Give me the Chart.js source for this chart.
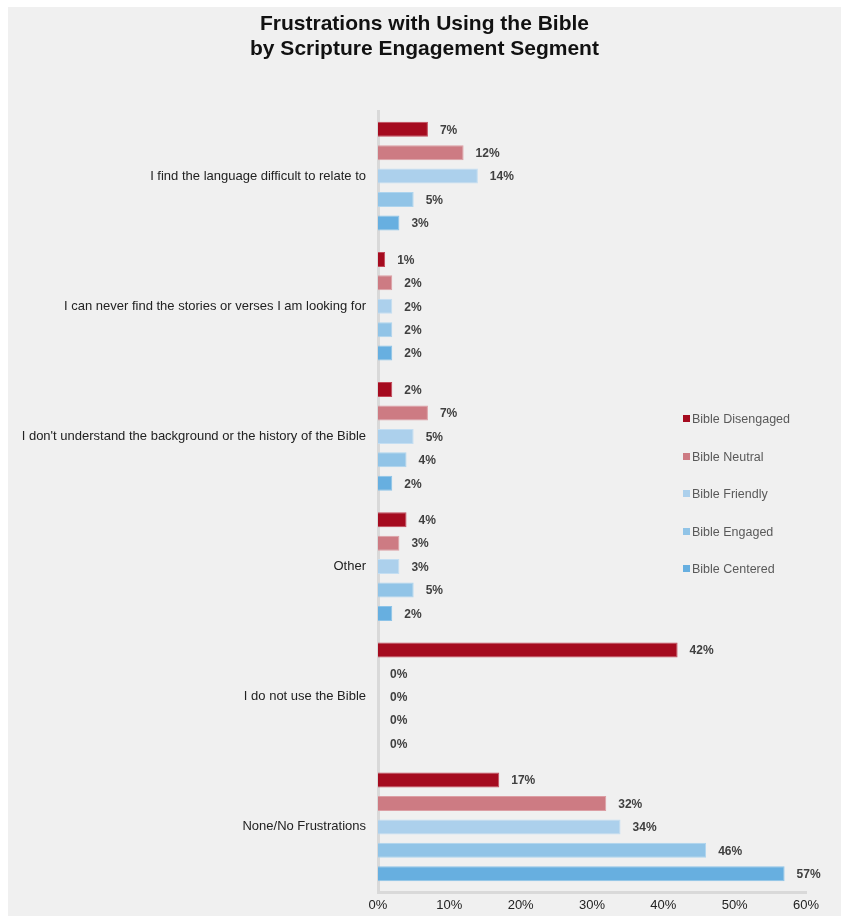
<!DOCTYPE html>
<html>
<head>
<meta charset="utf-8">
<script src="https://cdn.jsdelivr.net/npm/chart.js@4/dist/chart.umd.min.js"></script>
<style>
  body { margin: 0; background: #fff; }
  #wrap { position: absolute; left: 8px; top: 7px; width: 833px; height: 909px; background: #f0f0f0; }
  #title { position: absolute; left: 0; top: 3px; width: 833px; text-align: center; font: bold 21px/25px "Liberation Sans", Arial, sans-serif; color: #111; }
  #legend { position: absolute; left: 675px; top: 403px; font-family: "Liberation Sans", Arial, sans-serif; font-size: 12.5px; color: #595959; }
  #legend div { height: 37.5px; line-height: 18px; white-space: nowrap; }
  #legend span { display: inline-block; width: 7px; height: 7px; margin-right: 2px; vertical-align: 1px; }
</style>
</head>
<body>
<div id="wrap">
  <canvas id="chart" width="833" height="909"></canvas>
  <div id="title">Frustrations with Using the Bible<br>by Scripture Engagement Segment</div>
  <div id="legend"></div>
</div>
<script>
var categories = [
    'I find the language difficult to relate to',
    'I can never find the stories or verses I am looking for',
    "I don't understand the background or the history of the Bible",
    'Other',
    'I do not use the Bible',
    'None/No Frustrations'
];
var segments = ['Bible Disengaged', 'Bible Neutral', 'Bible Friendly', 'Bible Engaged', 'Bible Centered'];
var disengaged = [7, 1, 2, 4, 42, 17];
var neutral = [12, 2, 7, 3, 0, 32];
var friendly = [14, 2, 5, 3, 0, 34];
var engaged = [5, 2, 4, 5, 0, 46];
var centered = [3, 2, 2, 2, 0, 57];
var xTicks = [0, 10, 20, 30, 40, 50, 60];

var fills = ['#a50b1f', '#cd7b83', '#acd0ec', '#91c4e7', '#67afe0'];
var edges = ['#c24a5a', '#dc9ea4', '#c4def2', '#add4ee', '#8cc3e8'];
var sans = '"Liberation Sans", Arial, sans-serif';

var series = [disengaged, neutral, friendly, engaged, centered];
var datasets = [];
for (var i = 0; i < series.length; i++) {
    datasets.push({
        label: segments[i],
        data: series[i],
        backgroundColor: fills[i],
        borderColor: edges[i],
        borderWidth: 1,
        categoryPercentage: 0.9,
        barPercentage: 0.64
    });
}

// value labels just past the end of each bar
var valueLabels = {
    id: 'valueLabels',
    afterDatasetsDraw: function (chart) {
        var ctx = chart.ctx;
        var xs = chart.scales.x;
        ctx.save();
        ctx.font = 'bold 12px ' + sans;
        ctx.fillStyle = '#404040';
        ctx.textAlign = 'left';
        ctx.textBaseline = 'middle';
        chart.data.datasets.forEach(function (ds, di) {
            chart.getDatasetMeta(di).data.forEach(function (bar, j) {
                ctx.fillText(ds.data[j] + '%', xs.getPixelForValue(ds.data[j]) + 12, bar.y + 1);
            });
        });
        ctx.restore();
    }
};

new Chart(document.getElementById('chart'), {
    type: 'bar',
    data: { labels: categories, datasets: datasets },
    plugins: [valueLabels],
    options: {
        indexAxis: 'y',
        responsive: false,
        animation: false,
        layout: { padding: { top: 104, right: 35 } },
        plugins: {
            legend: { display: false },
            tooltip: { enabled: false },
            title: { display: false }
        },
        scales: {
            x: {
                min: 0,
                max: 60,
                afterBuildTicks: function (scale) {
                    scale.ticks = xTicks.map(function (v) { return { value: v }; });
                },
                afterFit: function (scale) { scale.height = 24; },
                grid: { display: false, drawTicks: false },
                border: { color: '#d9d9d9', width: 3 },
                ticks: {
                    padding: 6,
                    color: '#222',
                    font: { family: sans, size: 13 },
                    callback: function (v) { return v + '%'; }
                }
            },
            y: {
                afterFit: function (scale) { scale.width = 370; },
                grid: { display: false, drawTicks: false },
                border: { color: '#d9d9d9', width: 3 },
                ticks: {
                    padding: 12,
                    color: '#222',
                    font: { family: sans, size: 13 }
                }
            }
        }
    }
});

// legend on the right
var legend = document.getElementById('legend');
segments.forEach(function (name, i) {
    var row = document.createElement('div');
    var sw = document.createElement('span');
    sw.style.background = fills[i];
    row.appendChild(sw);
    row.appendChild(document.createTextNode(name));
    legend.appendChild(row);
});
</script>
</body>
</html>
